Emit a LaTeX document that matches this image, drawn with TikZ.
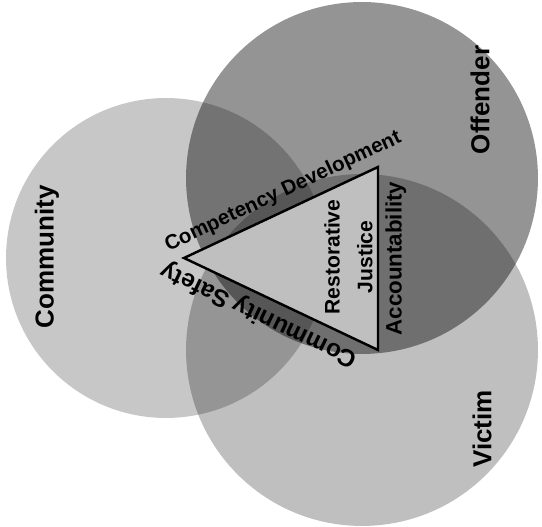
\documentclass[tikz,border=0pt]{standalone}
\usepackage{fontspec}
\setmainfont{Liberation Sans}
\usetikzlibrary{positioning}
\tikzset{
  ring/.style={circle,draw=none,fill=black,fill opacity=#1,inner sep=0pt},
  party/.style={font=\bfseries\fontsize{14.8}{17}\selectfont,rotate=90},
  side/.style={font=\bfseries\fontsize{#1}{14}\selectfont,sloped,allow upside down,inner sep=4pt},
  tri/.style={draw=black,line width=1.4pt,fill=black!25,line join=miter},
}

\begin{document}
\begin{tikzpicture}[x=0.02cm,y=0.02cm]
  \useasboundingbox (0,0) rectangle (542,527);
  % the three circles
  \node[ring=0.22,minimum size=6.4cm] (comm) at (166,269) {};
  \node[ring=0.42,minimum size=7.04cm] (off) at (362,349) {};
  \node[ring=0.25,minimum size=7.04cm] (vic) at (362,177) {};
  \node[party] (commlbl) at (47,270) {Community};
  \node[party] (offlbl) at (480,427) {Offender};
  \node[party] (viclbl) at (482,98) {Victim};
  % triangle
  \coordinate (tl) at (184,269);
  \coordinate (tr) at (378,360);
  \coordinate (br) at (378,177);
  \draw[tri] (tl) -- node[side=11.7,above,pos=0.55] (comp) {Competency Development} (tr)
    -- (br) -- cycle;
  \path (br) -- node[side=12.7,below,pos=0.5] (acct) {Accountability} (tr);
  \path (br) -- node[side=13.9,above,pos=0.57] (safe) {Community Safety} (tl);
  \node[font=\bfseries\fontsize{12}{18.7}\selectfont,rotate=90,align=center] (rj) at (348.5,270) {Restorative\\Justice};
\end{tikzpicture}
\end{document}
